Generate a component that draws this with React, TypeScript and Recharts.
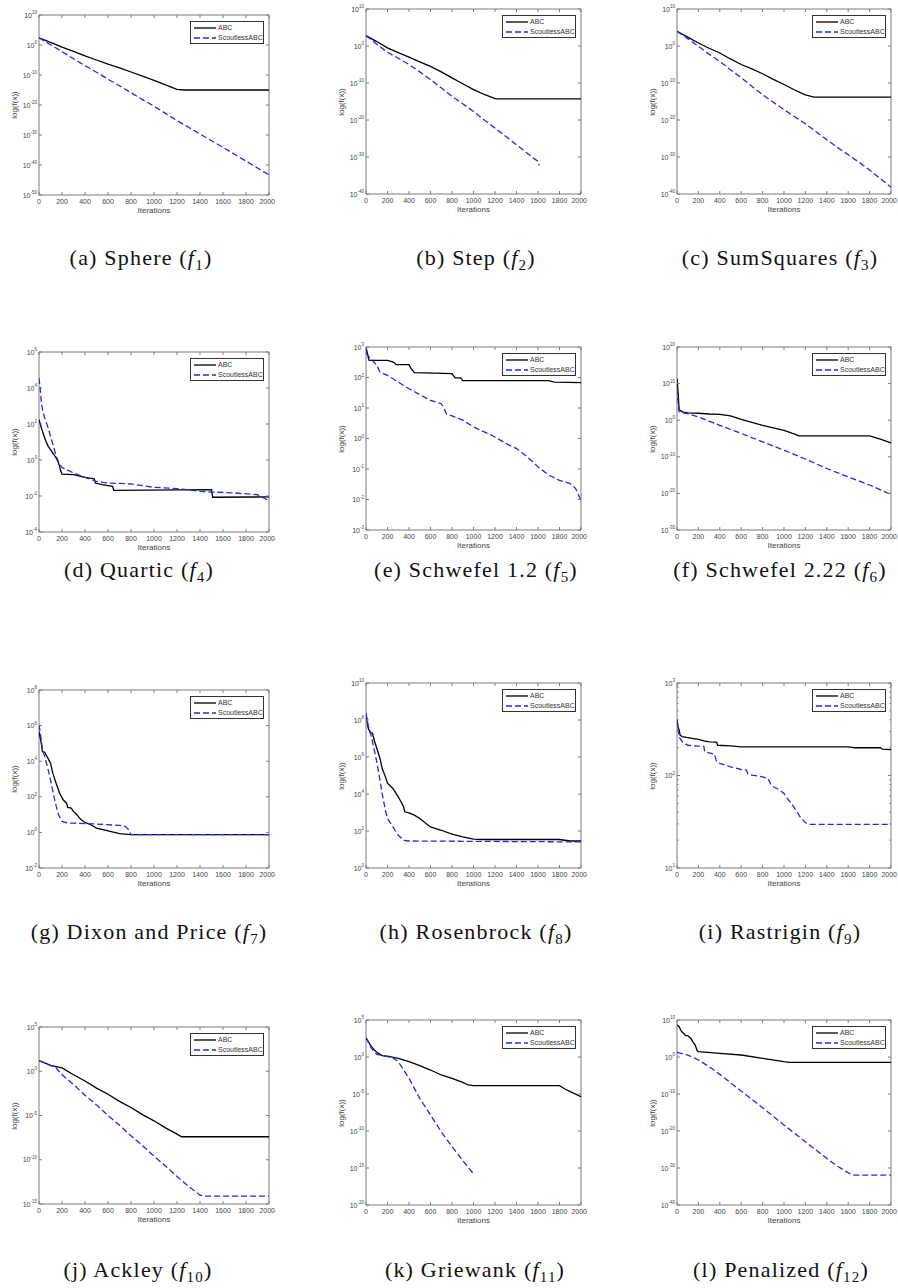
import React from 'react';
import { LineChart, Line, XAxis, YAxis, ReferenceArea } from 'recharts';

// [iteration, log10 f(x)] pairs
type Pt = [number, number];

const iterTicks = [0, 200, 400, 600, 800, 1000, 1200, 1400, 1600, 1800, 2000];

// (a) Sphere
const sphereTicks = [10, 0, -10, -20, -30, -40, -50];
const sphereAbc: Pt[] = [[0, 2.4], [100, 0.9], [200, -0.7], [300, -2.1], [400, -3.6], [500, -5.0], [600, -6.4], [700, -7.6], [800, -9.0], [900, -10.4], [1000, -11.8], [1100, -13.3], [1200, -14.8], [1260, -15.0], [2000, -15.0]];
const sphereScout: Pt[] = [[0, 2.4], [100, 0.1], [200, -2.2], [300, -4.6], [400, -6.9], [500, -9.1], [600, -11.4], [700, -13.6], [800, -15.9], [900, -18.2], [1000, -20.4], [1100, -22.8], [1200, -25.2], [1300, -27.4], [1400, -29.7], [1500, -31.9], [1600, -34.1], [1700, -36.4], [1800, -38.7], [1900, -41.0], [2000, -43.3]];

// (b) Step
const stepTicks = [10, 0, -10, -20, -30, -40];
const stepAbc: Pt[] = [[0, 2.8], [100, 1.2], [200, -0.5], [300, -1.8], [400, -3.0], [500, -4.3], [600, -5.5], [700, -7.0], [800, -8.6], [900, -10.2], [1000, -11.8], [1100, -13.1], [1200, -14.2], [1220, -14.3], [2000, -14.3]];
const stepScout: Pt[] = [[0, 2.8], [100, 0.5], [200, -1.7], [300, -3.3], [400, -5.0], [500, -7.0], [600, -9.1], [700, -11.3], [800, -13.6], [900, -15.6], [1000, -17.7], [1100, -20.0], [1200, -22.2], [1300, -24.4], [1400, -26.7], [1500, -29.0], [1600, -31.2], [1610, -32.3]];

// (c) SumSquares
const sumTicks = [10, 0, -10, -20, -30, -40];
const sumAbc: Pt[] = [[0, 4.0], [100, 2.4], [200, 0.8], [300, -0.6], [400, -1.9], [500, -3.5], [600, -5.0], [700, -6.2], [800, -7.5], [900, -9.0], [1000, -10.4], [1100, -11.9], [1200, -13.2], [1280, -13.8], [2000, -13.8]];
const sumScout: Pt[] = [[0, 4.0], [100, 2.0], [200, -0.1], [300, -2.2], [400, -4.2], [500, -6.4], [600, -8.6], [700, -10.9], [800, -13.2], [900, -15.2], [1000, -17.2], [1100, -19.1], [1200, -21.0], [1300, -23.2], [1400, -25.3], [1500, -27.4], [1600, -29.4], [1700, -31.4], [1800, -33.5], [1900, -35.8], [2000, -38.2]];

// (d) Quartic
const quarticTicks = [6, 4, 2, 0, -2, -4];
const quarticAbc: Pt[] = [[0, 2.24], [20, 1.8], [40, 1.4], [60, 1.04], [80, 0.76], [100, 0.57], [130, 0.3], [150, 0.1], [170, -0.17], [190, -0.63], [200, -0.78], [300, -0.81], [400, -0.96], [480, -1.04], [490, -1.28], [550, -1.37], [640, -1.46], [650, -1.69], [1500, -1.65], [1510, -2.07], [2000, -2.05]];
const quarticScout: Pt[] = [[0, 4.56], [10, 4.0], [20, 3.26], [30, 2.8], [50, 2.33], [80, 1.78], [100, 1.31], [130, 0.67], [150, 0.2], [180, -0.26], [200, -0.41], [300, -0.72], [400, -0.96], [500, -1.19], [600, -1.28], [800, -1.33], [1000, -1.52], [1200, -1.59], [1300, -1.65], [1400, -1.74], [1500, -1.78], [1700, -1.83], [1900, -1.93], [2000, -2.26]];

// (e) Schwefel 1.2
const schw12Ticks = [3, 2, 1, 0, -1, -2, -3];
const schw12Abc: Pt[] = [[0, 3.0], [25, 2.6], [30, 2.56], [200, 2.56], [260, 2.5], [280, 2.42], [400, 2.42], [420, 2.29], [450, 2.16], [800, 2.13], [830, 1.99], [880, 1.99], [900, 1.9], [1700, 1.9], [1750, 1.85], [2000, 1.83]];
const schw12Scout: Pt[] = [[0, 2.8], [30, 2.67], [100, 2.4], [130, 2.18], [200, 2.07], [300, 1.85], [400, 1.63], [500, 1.44], [600, 1.25], [700, 1.14], [720, 1.03], [750, 0.8], [800, 0.74], [900, 0.6], [1000, 0.38], [1100, 0.22], [1200, 0.05], [1300, -0.16], [1400, -0.33], [1500, -0.6], [1600, -0.93], [1700, -1.2], [1800, -1.37], [1900, -1.48], [1950, -1.64], [2000, -2.03]];

// (f) Schwefel 2.22
const schw22Ticks = [20, 10, 0, -10, -20, -30];
const schw22Abc: Pt[] = [[0, 11.4], [10, 7.7], [20, 2.9], [50, 2.3], [100, 2.0], [200, 1.9], [300, 1.7], [400, 1.6], [500, 1.2], [600, 0.2], [700, -0.6], [800, -1.4], [900, -2.1], [1000, -2.8], [1100, -3.8], [1140, -4.3], [1800, -4.3], [1900, -5.2], [2000, -6.2]];
const schw22Scout: Pt[] = [[0, 8.6], [10, 5.0], [20, 2.3], [50, 2.0], [100, 1.8], [200, 0.9], [400, -1.4], [600, -3.6], [800, -5.9], [1000, -8.2], [1200, -10.6], [1400, -13.2], [1600, -15.5], [1800, -17.7], [2000, -20.3]];

// (g) Dixon and Price
const dixonTicks = [8, 6, 4, 2, 0, -2];
const dixonAbc: Pt[] = [[0, 5.66], [20, 5.0], [30, 4.54], [50, 4.5], [70, 4.26], [100, 3.89], [120, 3.33], [150, 2.73], [180, 2.2], [210, 1.83], [240, 1.64], [250, 1.4], [280, 1.36], [300, 1.18], [330, 0.99], [360, 0.75], [400, 0.56], [450, 0.43], [500, 0.24], [600, 0.09], [700, -0.07], [800, -0.13], [2000, -0.13]];
const dixonScout: Pt[] = [[0, 6.04], [10, 5.66], [30, 4.64], [50, 4.26], [80, 3.51], [100, 2.95], [130, 2.02], [150, 1.46], [170, 0.99], [200, 0.62], [250, 0.52], [300, 0.52], [500, 0.47], [700, 0.39], [750, 0.34], [780, 0.15], [800, -0.13], [2000, -0.13]];

// (h) Rosenbrock
const rosenTicks = [10, 8, 6, 4, 2, 0];
const rosenAbc: Pt[] = [[0, 8.28], [20, 7.56], [40, 7.32], [60, 7.29], [80, 6.84], [100, 6.47], [130, 5.93], [150, 5.39], [180, 4.94], [200, 4.58], [250, 4.3], [300, 3.85], [350, 3.31], [360, 3.04], [400, 2.98], [450, 2.86], [500, 2.68], [550, 2.44], [600, 2.22], [700, 2.04], [800, 1.83], [900, 1.68], [1000, 1.56], [1100, 1.54], [1800, 1.54], [1900, 1.46], [2000, 1.46]];
const rosenScout: Pt[] = [[0, 8.37], [20, 7.74], [50, 7.11], [100, 5.75], [130, 4.76], [150, 4.03], [180, 3.13], [200, 2.68], [250, 2.22], [300, 1.77], [350, 1.5], [400, 1.46], [2000, 1.41]];

// (i) Rastrigin
const rastTicks = [3, 2, 1];
const rastMinor = [20, 30, 40, 50, 60, 70, 80, 90, 200, 300, 400, 500, 600, 700, 800, 900];
const rastAbc: Pt[] = [[0, 2.604], [10, 2.525], [20, 2.49], [30, 2.435], [50, 2.42], [100, 2.41], [200, 2.39], [250, 2.374], [300, 2.363], [370, 2.36], [380, 2.327], [500, 2.32], [600, 2.31], [1600, 2.31], [1660, 2.3], [1900, 2.3], [1920, 2.284], [2000, 2.28]];
const rastScout: Pt[] = [[0, 2.604], [10, 2.507], [20, 2.417], [50, 2.363], [100, 2.327], [200, 2.317], [250, 2.317], [260, 2.255], [300, 2.245], [350, 2.23], [370, 2.147], [400, 2.13], [500, 2.094], [600, 2.065], [650, 2.058], [660, 2.02], [700, 2.004], [800, 1.986], [850, 1.968], [880, 1.896], [900, 1.878], [950, 1.849], [1000, 1.806], [1030, 1.752], [1070, 1.698], [1100, 1.644], [1150, 1.554], [1200, 1.489], [1250, 1.471], [2000, 1.471]];

// (j) Ackley
const ackleyTicks = [5, 0, -5, -10, -15];
const ackleyAbc: Pt[] = [[0, 1.2], [100, 0.67], [200, 0.37], [300, -0.4], [400, -1.1], [500, -1.9], [600, -2.6], [700, -3.4], [800, -4.1], [900, -4.9], [1000, -5.6], [1100, -6.4], [1200, -7.1], [1240, -7.4], [2000, -7.4]];
const ackleyScout: Pt[] = [[0, 1.2], [100, 0.67], [150, 0.37], [200, -0.4], [300, -1.5], [400, -2.7], [500, -3.8], [600, -5.0], [700, -6.1], [800, -7.3], [900, -8.4], [1000, -9.6], [1100, -10.7], [1200, -11.9], [1300, -13.0], [1400, -14.0], [1440, -14.1], [2000, -14.1]];

// (k) Griewank
const griewTicks = [5, 0, -5, -10, -15, -20];
const griewAbc: Pt[] = [[0, 2.6], [50, 1.4], [100, 0.63], [150, 0.18], [200, 0.13], [300, -0.18], [400, -0.63], [500, -1.17], [600, -1.76], [700, -2.43], [800, -2.88], [900, -3.42], [950, -3.78], [1000, -3.87], [1800, -3.87], [1850, -4.32], [1900, -4.68], [2000, -5.36]];
const griewScout: Pt[] = [[0, 2.6], [50, 1.17], [100, 0.36], [200, 0.05], [250, -0.09], [300, -0.63], [400, -2.88], [500, -5.59], [600, -7.84], [700, -10.1], [800, -12.1], [900, -14.0], [1000, -15.8]];

// (l) Penalized
const penTicks = [10, 0, -10, -20, -30, -40];
const penAbc: Pt[] = [[0, 8.65], [20, 8.2], [40, 7.0], [60, 6.4], [80, 5.8], [100, 5.8], [130, 5.0], [150, 4.0], [170, 3.2], [190, 1.6], [200, 1.44], [400, 1.0], [600, 0.54], [800, -0.36], [1000, -1.26], [1050, -1.44], [2000, -1.44]];
const penScout: Pt[] = [[0, 1.26], [100, 0.54], [200, -0.8], [300, -2.6], [400, -4.7], [600, -9.2], [800, -13.7], [1000, -18.4], [1200, -22.9], [1400, -27.4], [1500, -29.5], [1600, -31.3], [1650, -31.9], [2000, -31.9]];

interface PanelSpec {
  tag: string;
  name: string;
  sub: string;
  left: number;
  top: number;
  right: number;
  bottom: number;
  ticks: number[];
  minor?: number[];
  abc: Pt[];
  scout: Pt[];
  capX: number;
  capY: number;
}

const panels: PanelSpec[] = [
  { tag: 'a', name: 'Sphere', sub: '1', left: 39, top: 15, right: 269, bottom: 195, ticks: sphereTicks, abc: sphereAbc, scout: sphereScout, capX: 141, capY: 258 },
  { tag: 'b', name: 'Step', sub: '2', left: 366, top: 9, right: 581, bottom: 194, ticks: stepTicks, abc: stepAbc, scout: stepScout, capX: 476, capY: 258 },
  { tag: 'c', name: 'SumSquares', sub: '3', left: 677, top: 9, right: 891, bottom: 194, ticks: sumTicks, abc: sumAbc, scout: sumScout, capX: 780, capY: 258 },
  { tag: 'd', name: 'Quartic', sub: '4', left: 39, top: 352, right: 269, bottom: 532, ticks: quarticTicks, abc: quarticAbc, scout: quarticScout, capX: 139, capY: 570 },
  { tag: 'e', name: 'Schwefel 1.2', sub: '5', left: 366, top: 347, right: 581, bottom: 530, ticks: schw12Ticks, abc: schw12Abc, scout: schw12Scout, capX: 476, capY: 570 },
  { tag: 'f', name: 'Schwefel 2.22', sub: '6', left: 677, top: 347, right: 891, bottom: 530, ticks: schw22Ticks, abc: schw22Abc, scout: schw22Scout, capX: 780, capY: 570 },
  { tag: 'g', name: 'Dixon and Price', sub: '7', left: 39, top: 690, right: 269, bottom: 868, ticks: dixonTicks, abc: dixonAbc, scout: dixonScout, capX: 149, capY: 932 },
  { tag: 'h', name: 'Rosenbrock', sub: '8', left: 366, top: 683, right: 581, bottom: 868, ticks: rosenTicks, abc: rosenAbc, scout: rosenScout, capX: 476, capY: 932 },
  { tag: 'i', name: 'Rastrigin', sub: '9', left: 677, top: 683, right: 891, bottom: 868, ticks: rastTicks, minor: rastMinor, abc: rastAbc, scout: rastScout, capX: 780, capY: 932 },
  { tag: 'j', name: 'Ackley', sub: '10', left: 39, top: 1027, right: 269, bottom: 1204, ticks: ackleyTicks, abc: ackleyAbc, scout: ackleyScout, capX: 138, capY: 1270 },
  { tag: 'k', name: 'Griewank', sub: '11', left: 366, top: 1020, right: 581, bottom: 1205, ticks: griewTicks, abc: griewAbc, scout: griewScout, capX: 475, capY: 1270 },
  { tag: 'l', name: 'Penalized', sub: '12', left: 677, top: 1020, right: 891, bottom: 1205, ticks: penTicks, abc: penAbc, scout: penScout, capX: 781, capY: 1270 },
];

const ML = 40;
const MT = 5;
const MR = 7;
const MB = 30;
const FRAME = '#7a7a7a';
const TXT = '#444';
const BLUE = '#2525f2';
const SANS = '"Liberation Sans", Arial, sans-serif';

const toRows = (pts: Pt[]) => pts.map(([it, e]) => ({ it, v: Math.pow(10, e) }));

const Panel = ({ p }: { p: PanelSpec }) => {
  const w = p.right - p.left;
  const h = p.bottom - p.top;
  const yMax = p.ticks[0];
  const yMin = p.ticks[p.ticks.length - 1];
  const majorVals = p.ticks.map((e) => Math.pow(10, e));
  const yVals = [...majorVals, ...(p.minor || [])].sort((a, b) => a - b);

  const XTick = (props: any) => {
    const { x, payload } = props;
    const last = payload.value === 2000;
    return (
      <g>
        <line x1={x} x2={x} y1={MT + h} y2={MT + h - 3} stroke={FRAME} />
        <line x1={x} x2={x} y1={MT} y2={MT + 3} stroke={FRAME} />
        <text
          x={last ? x + 6 : x}
          y={MT + h + 9}
          textAnchor={last ? 'end' : 'middle'}
          fontSize={7}
          fill={TXT}
          fontFamily={SANS}
        >
          {payload.value}
        </text>
      </g>
    );
  };

  const YTick = (props: any) => {
    const { y, payload } = props;
    const lg = Math.log10(payload.value);
    const e = Math.round(lg);
    const major = Math.abs(lg - e) < 1e-6;
    const len = major ? 3 : 1.6;
    return (
      <g>
        <line x1={ML} x2={ML + len} y1={y} y2={y} stroke={FRAME} />
        <line x1={ML + w} x2={ML + w - len} y1={y} y2={y} stroke={FRAME} />
        {major && (
          <text x={ML - 2} y={y + 2.5} textAnchor="end" fontSize={7} fill={TXT} fontFamily={SANS}>
            10
            <tspan dy={-3.5} fontSize={4.5}>{e}</tspan>
          </text>
        )}
      </g>
    );
  };

  return (
    <>
      <div style={{ position: 'absolute', left: p.left - ML, top: p.top - MT }}>
        <LineChart width={w + ML + MR} height={h + MT + MB} margin={{ top: MT, right: MR, bottom: 0, left: 0 }}>
          <XAxis
            dataKey="it"
            type="number"
            domain={[0, 2000]}
            ticks={iterTicks}
            interval={0}
            tick={XTick}
            tickLine={false}
            axisLine={false}
            height={MB}
            allowDataOverflow
          />
          <YAxis
            type="number"
            scale="log"
            domain={[Math.pow(10, yMin), Math.pow(10, yMax)]}
            ticks={yVals}
            interval={0}
            tick={YTick}
            tickLine={false}
            axisLine={false}
            width={ML}
            allowDataOverflow
          />
          <ReferenceArea
            x1={0}
            x2={2000}
            y1={Math.pow(10, yMin)}
            y2={Math.pow(10, yMax)}
            fill="none"
            fillOpacity={0}
            stroke={FRAME}
            strokeWidth={1}
            ifOverflow="visible"
          />
          <Line data={toRows(p.abc)} dataKey="v" stroke="#000" strokeWidth={1.3} dot={false} isAnimationActive={false} />
          <Line
            data={toRows(p.scout)}
            dataKey="v"
            stroke={BLUE}
            strokeWidth={1.3}
            strokeDasharray="6 3"
            dot={false}
            isAnimationActive={false}
          />
        </LineChart>
      </div>

      {/* axis titles */}
      <div
        style={{
          position: 'absolute',
          left: p.left,
          width: w,
          top: p.bottom + 11,
          textAlign: 'center',
          fontFamily: SANS,
          fontSize: 8,
          color: TXT,
          lineHeight: '10px',
        }}
      >
        Iterations
      </div>
      <div
        style={{
          position: 'absolute',
          left: p.left - 24 - 40,
          width: 80,
          top: (p.top + p.bottom) / 2 - 5,
          textAlign: 'center',
          fontFamily: SANS,
          fontSize: 8,
          color: TXT,
          lineHeight: '10px',
          transform: 'rotate(-90deg)',
        }}
      >
        log(f(x))
      </div>

      {/* legend */}
      <div
        style={{
          position: 'absolute',
          left: p.right - 5 - 74,
          top: p.top + 6,
          width: 72,
          height: 21,
          border: '1px solid #333',
          background: '#fff',
          fontFamily: SANS,
          fontSize: 7,
          color: '#333',
        }}
      >
        <div style={{ position: 'absolute', left: 3, top: 1, display: 'flex', alignItems: 'center', height: 9 }}>
          <svg width={22} height={4}>
            <line x1={0} x2={22} y1={2} y2={2} stroke="#000" strokeWidth={1.3} />
          </svg>
          <span style={{ marginLeft: 2, lineHeight: '9px' }}>ABC</span>
        </div>
        <div style={{ position: 'absolute', left: 3, top: 11, display: 'flex', alignItems: 'center', height: 9 }}>
          <svg width={22} height={4}>
            <line x1={0} x2={22} y1={2} y2={2} stroke={BLUE} strokeWidth={1.3} strokeDasharray="6 3" />
          </svg>
          <span style={{ marginLeft: 2, lineHeight: '9px', whiteSpace: 'nowrap' }}>ScoutlessABC</span>
        </div>
      </div>

      {/* caption */}
      <div
        style={{
          position: 'absolute',
          left: p.capX - 150,
          width: 300,
          top: p.capY - 13,
          textAlign: 'center',
          fontFamily: '"Liberation Serif", "Times New Roman", serif',
          fontSize: 22,
          letterSpacing: 1.2,
          lineHeight: '26px',
          color: '#111',
          whiteSpace: 'nowrap',
        }}
      >
        ({p.tag}) {p.name} (<i>f</i>
        <sub style={{ fontSize: 15, lineHeight: 0 }}>{p.sub}</sub>)
      </div>
    </>
  );
};

export default function App() {
  return (
    <div style={{ position: 'absolute', left: 0, top: 0, width: 898, height: 1288, background: '#fff', overflow: 'hidden' }}>
      {panels.map((p) => (
        <Panel key={p.tag} p={p} />
      ))}
    </div>
  );
}
